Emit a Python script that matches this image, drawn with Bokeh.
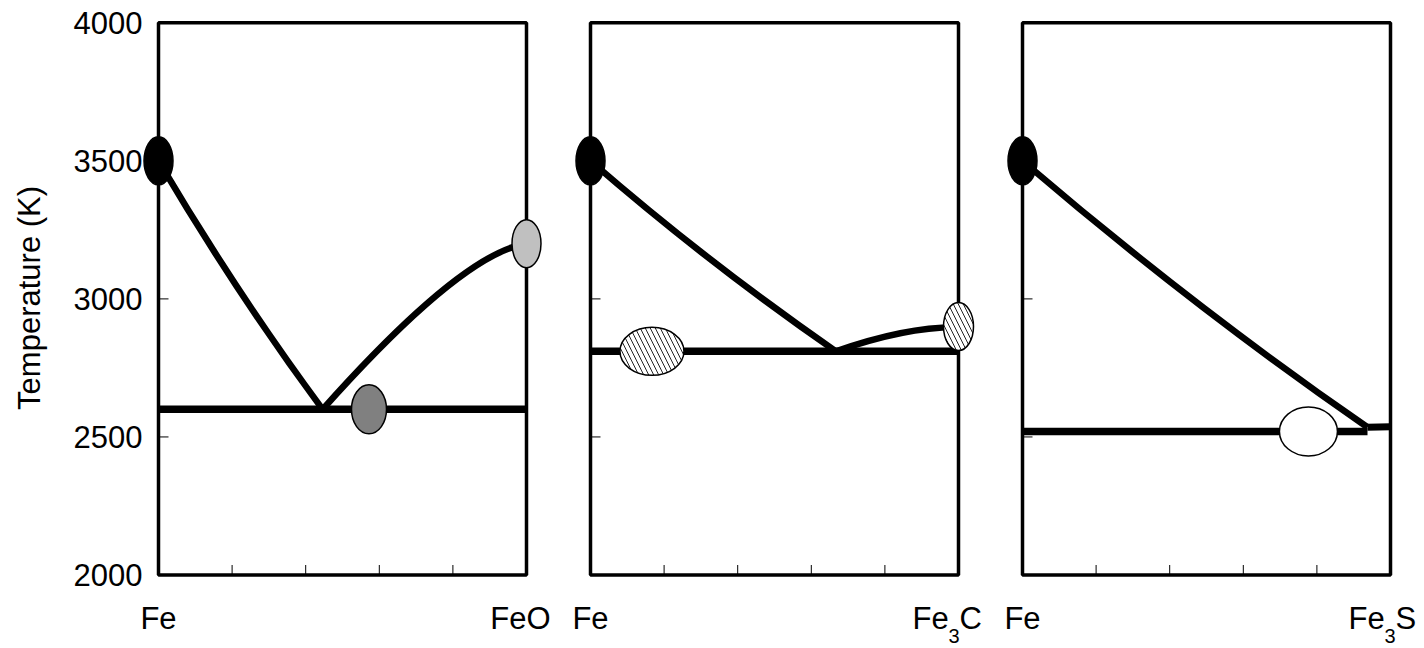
import math
from bokeh.plotting import figure
from bokeh.layouts import row
from bokeh.models import Range1d
from bokeh.core.properties import value
from bokeh.embed import file_html
from bokeh.resources import INLINE

# ---------------- data ----------------
Y_TICKS = [2000, 2500, 3000, 3500, 4000]
Y_TICK_LABELS = ["2000", "2500", "3000", "3500", "4000"]
Y_INNER_TICKS = [2500, 3000, 3500]
X_INNER_TICKS = [0.2, 0.4, 0.6, 0.8]
Y_TITLE = "Temperature (K)"

# Panel 1: Fe - FeO  (curves as quadratic segments: start, control, end)
P1_CURVE_X0 = [0.0, 0.446]
P1_CURVE_T0 = [3500, 2600]
P1_CURVE_CX = [0.215, 0.824]
P1_CURVE_CT = [3015, 3165]
P1_CURVE_X1 = [0.446, 1.0]
P1_CURVE_T1 = [2600, 3200]
P1_EUTECTIC_X = [0.0, 1.0]
P1_EUTECTIC_T = [2600, 2600]
P1_MARK_X = [0.0, 0.572, 1.0]
P1_MARK_T = [3500, 2600, 3200]
P1_MARK_W = [29, 35, 29]
P1_MARK_H = [48, 49, 48]
P1_MARK_FILL = ["#000000", "#808080", "#c0c0c0"]

# Panel 2: Fe - Fe3C
P2_CURVE_X0 = [0.0, 0.667]
P2_CURVE_T0 = [3500, 2810]
P2_CURVE_CX = [0.32, 0.86]
P2_CURVE_CT = [3130, 2900]
P2_CURVE_X1 = [0.667, 1.0]
P2_CURVE_T1 = [2810, 2897]
P2_EUTECTIC_X = [0.0, 1.0]
P2_EUTECTIC_T = [2810, 2810]
P2_MARK_X = [0.0]
P2_MARK_T = [3500]
P2_MARK_W = [29]
P2_MARK_H = [48]
P2_HATCH_X = [0.167, 1.0]
P2_HATCH_T = [2810, 2900]
P2_HATCH_W = [64, 30]
P2_HATCH_H = [48, 48]

# Panel 3: Fe - Fe3S
P3_CURVE_X0 = [0.0]
P3_CURVE_T0 = [3500]
P3_CURVE_CX = [0.46]
P3_CURVE_CT = [2975]
P3_CURVE_X1 = [0.9375]
P3_CURVE_T1 = [2535]
P3_END_X = [0.9375, 1.0]
P3_END_T = [2535, 2537]
P3_EUTECTIC_X = [0.0, 0.9375]
P3_EUTECTIC_T = [2520, 2520]
P3_MARK_X = [0.0, 0.777]
P3_MARK_T = [3500, 2520]
P3_MARK_W = [29, 58]
P3_MARK_H = [48, 49]
P3_MARK_FILL = ["#000000", "#ffffff"]

# ---------------- layout ----------------
FONT = value("Liberation Sans")
BOX_W = 368.0
H = 648
BOX_TOP = 22.3
BOX_BOT = 574.5
K_PER_PX = 2000.0 / (BOX_BOT - BOX_TOP)
WIDTHS = [558, 432, 430]
BOX_LEFTS = [158, 32, 32]
LABEL_DY = 43.5


def make_panel(i):
    w = WIDTHS[i]
    bl = BOX_LEFTS[i]
    p = figure(width=w, height=H, output_backend="svg", toolbar_location=None,
               x_axis_type=None, y_axis_type=None,
               x_range=Range1d(-bl / BOX_W, (w - bl) / BOX_W),
               y_range=Range1d(2000 - (H - BOX_BOT) * K_PER_PX, 4000 + BOX_TOP * K_PER_PX),
               min_border=0, min_border_left=0, min_border_right=0,
               min_border_top=0, min_border_bottom=0)
    p.outline_line_color = None
    p.grid.visible = False
    p.background_fill_color = "white"
    p.border_fill_color = "white"

    # frame
    p.quad(left=[0], right=[1], bottom=[2000], top=[4000], fill_color=None,
           line_color="black", line_width=3.5)
    # inner ticks
    tx = 10.0 / BOX_W
    ty = 10.0 * K_PER_PX
    p.segment(x0=[0] * len(Y_INNER_TICKS), y0=Y_INNER_TICKS,
              x1=[tx] * len(Y_INNER_TICKS), y1=Y_INNER_TICKS,
              line_color="black", line_width=1)
    p.segment(x0=X_INNER_TICKS, y0=[2000] * len(X_INNER_TICKS),
              x1=X_INNER_TICKS, y1=[2000 + ty] * len(X_INNER_TICKS),
              line_color="black", line_width=1)
    # Fe label under left edge
    p.text(x=[0], y=[2000], text=["Fe"], text_font=FONT, text_font_size="31px",
           text_align="center", text_baseline="alphabetic", y_offset=LABEL_DY,
           text_color="black")
    return p


p1 = make_panel(0)
p2 = make_panel(1)
p3 = make_panel(2)

# y tick labels and title on first panel
p1.text(x=[0] * len(Y_TICKS), y=Y_TICKS, text=Y_TICK_LABELS, text_font=FONT,
        text_font_size="31px", text_align="right", text_baseline="middle",
        x_offset=-16, text_color="black")
p1.text(x=[0], y=[3000], text=[Y_TITLE], text_font=FONT, text_font_size="31px",
        text_align="center", text_baseline="middle", angle=math.pi / 2,
        x_offset=-129, y_offset=-1, text_color="black")

# right labels
p1.text(x=[1], y=[2000], text=["FeO"], text_font=FONT, text_font_size="31px",
        text_align="center", text_baseline="alphabetic", x_offset=-6, y_offset=LABEL_DY,
        text_color="black")


def compound_label(p, letter, origin):
    p.text(x=[1], y=[2000], text=["Fe"], text_font=FONT, text_font_size="31px",
           text_align="left", text_baseline="alphabetic", x_offset=origin,
           y_offset=LABEL_DY, text_color="black")
    p.text(x=[1], y=[2000], text=["3"], text_font=FONT, text_font_size="20px",
           text_align="left", text_baseline="alphabetic", x_offset=origin + 36,
           y_offset=LABEL_DY + 17, text_color="black")
    p.text(x=[1], y=[2000], text=[letter], text_font=FONT, text_font_size="31px",
           text_align="left", text_baseline="alphabetic", x_offset=origin + 47,
           y_offset=LABEL_DY, text_color="black")


compound_label(p2, "C", -46)
compound_label(p3, "S", -42)

CURVE = dict(line_color="black", line_width=6.5)
MARK = dict(width_units="screen", height_units="screen", line_color="black", line_width=1.5)
EUT = dict(line_color="black", line_width=7.5, line_cap="butt")

# ---- panel 1 ----
p1.line(P1_EUTECTIC_X, P1_EUTECTIC_T, **EUT)
p1.quadratic(x0=P1_CURVE_X0, y0=P1_CURVE_T0, x1=P1_CURVE_X1, y1=P1_CURVE_T1,
             cx=P1_CURVE_CX, cy=P1_CURVE_CT, **CURVE)
p1.ellipse(x=P1_MARK_X, y=P1_MARK_T, width=P1_MARK_W, height=P1_MARK_H,
           fill_color=P1_MARK_FILL, **MARK)

# ---- panel 2 ----
p2.line(P2_EUTECTIC_X, P2_EUTECTIC_T, **EUT)
p2.quadratic(x0=P2_CURVE_X0, y0=P2_CURVE_T0, x1=P2_CURVE_X1, y1=P2_CURVE_T1,
             cx=P2_CURVE_CX, cy=P2_CURVE_CT, **CURVE)
p2.ellipse(x=P2_MARK_X, y=P2_MARK_T, width=P2_MARK_W, height=P2_MARK_H,
           fill_color="black", **MARK)
p2.ellipse(x=P2_HATCH_X, y=P2_HATCH_T, width=P2_HATCH_W, height=P2_HATCH_H,
           fill_color="white", hatch_pattern="\\", hatch_scale=10, hatch_weight=1,
           hatch_color="#222222", **MARK)

# ---- panel 3 ----
p3.line(P3_EUTECTIC_X, P3_EUTECTIC_T, **EUT)
p3.quadratic(x0=P3_CURVE_X0, y0=P3_CURVE_T0, x1=P3_CURVE_X1, y1=P3_CURVE_T1,
             cx=P3_CURVE_CX, cy=P3_CURVE_CT, **CURVE)
p3.line(P3_END_X, P3_END_T, line_color="black", line_width=7, line_cap="butt")
p3.ellipse(x=P3_MARK_X, y=P3_MARK_T, width=P3_MARK_W, height=P3_MARK_H,
           fill_color=P3_MARK_FILL, **MARK)

layout = row(p1, p2, p3)
open("out.html", "w").write(file_html(layout, INLINE))
